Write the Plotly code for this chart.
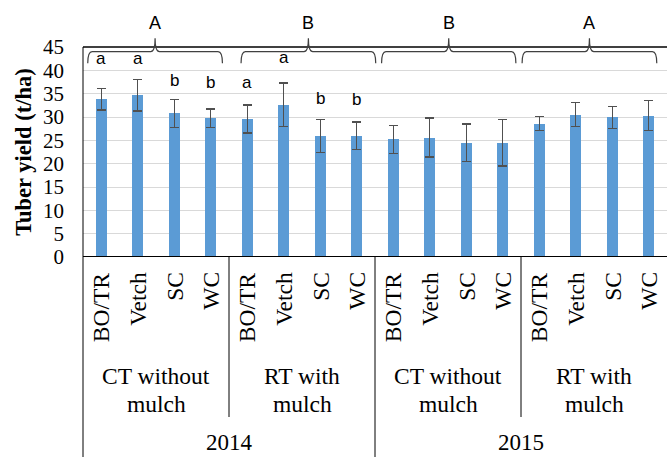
import plotly.graph_objects as go

# ---- data ----
years = ["2014", "2015"]
systems = [["CT without", "mulch"], ["RT with", "mulch"]]
crops = ["BO/TR", "Vetch", "SC", "WC"]
yield_mean = [33.8, 34.7, 30.8, 29.7, 29.6, 32.6, 25.9, 26.0,
              25.2, 25.6, 24.5, 24.5, 28.6, 30.5, 29.9, 30.3]
yield_err = [2.3, 3.4, 3.0, 2.0, 3.0, 4.7, 3.5, 2.9,
             3.0, 4.2, 4.0, 5.0, 1.5, 2.6, 2.3, 3.2]
crop_letters = ["a", "a", "b", "b", "a", "a", "b", "b"]
group_letters = ["A", "B", "B", "A"]

# ---- layout helpers (placement only) ----
letter_y = [42.6, 42.6, 37.9, 37.3, 37.5, 42.8, 34.0, 33.8]
brace_x0 = [-0.37, 3.83, 7.68, 11.53]
brace_x1 = [3.32, 7.52, 11.36, 15.22]

n = len(yield_mean)
xs = list(range(n))
H_PLOT = 210.0  # px height of plot area
def py(p):  # pixel (from top of figure) -> paper y
    return (257.0 - p) / H_PLOT

serif = "Liberation Serif"
sans = "Liberation Sans"

fig = go.Figure()
fig.add_trace(go.Bar(
    x=xs, y=yield_mean, width=0.31,
    marker=dict(color="#5b9bd5", line=dict(width=0)),
    error_y=dict(type="data", array=yield_err, visible=True,
                 color="#505050", thickness=1.3, width=4.5),
    hoverinfo="y",
))

shapes = []
annotations = []
line_col = "#404040"

# top border
shapes.append(dict(type="line", xref="paper", yref="paper", x0=0, x1=1, y0=1, y1=1,
                   line=dict(color=line_col, width=2)))
# bottom axis line
shapes.append(dict(type="line", xref="paper", yref="y", x0=0, x1=1, y0=0, y1=0,
                   line=dict(color="black", width=2)))
# left line (down through label area)
shapes.append(dict(type="line", xref="paper", yref="paper", x0=0, x1=0, y0=py(460), y1=1,
                   line=dict(color="black", width=1)))
# group separators
for g in range(1, 4):
    xb = 4 * g - 0.5
    bottom = py(460) if g == 2 else py(417)
    shapes.append(dict(type="line", xref="x", yref="paper", x0=xb, x1=xb, y0=0, y1=bottom,
                       line=dict(color="black", width=1)))

# braces
yh, yc, yt = py(51.7), py(63.3), py(38.3)
for g in range(4):
    x0, x1 = brace_x0[g], brace_x1[g]
    xm = (x0 + x1) / 2
    d = 0.12
    path = (f"M {x0},{yc} Q {x0},{yh} {x0+d},{yh} L {xm-d},{yh} "
            f"Q {xm},{yh} {xm},{yt} Q {xm},{yh} {xm+d},{yh} L {x1-d},{yh} "
            f"Q {x1},{yh} {x1},{yc}")
    shapes.append(dict(type="path", xref="x", yref="paper", path=path,
                       line=dict(color="#404040", width=1.2)))
    annotations.append(dict(x=xm, y=py(23.3), xref="x", yref="paper", text=group_letters[g],
                            showarrow=False, font=dict(family=sans, size=18, color="black"),
                            xanchor="center", yanchor="middle"))

# significance letters
for i, t in enumerate(crop_letters):
    annotations.append(dict(x=i, y=letter_y[i], xref="x", yref="y", text=t, showarrow=False,
                            font=dict(family=sans, size=17, color="black"),
                            xanchor="center", yanchor="middle"))

# crop labels (rotated)
for i in xs:
    annotations.append(dict(x=i, y=py(270.0), xref="x", yref="paper", text=crops[i % 4],
                            textangle=-90, showarrow=False,
                            font=dict(family=serif, size=23.5, color="black"),
                            xanchor="center", yanchor="top"))
# system labels (two lines each)
for g in range(4):
    for k, line in enumerate(systems[g % 2]):
        annotations.append(dict(x=4 * g + 1.5, y=py(376 + 27.5 * k), xref="x", yref="paper",
                                text=line, showarrow=False,
                                font=dict(family=serif, size=23.5, color="black"),
                                xanchor="center", yanchor="middle"))
# year labels
for k, yr in enumerate(years):
    annotations.append(dict(x=8 * k + 3.5, y=py(442), xref="x", yref="paper", text=yr,
                            showarrow=False, font=dict(family=serif, size=23, color="black"),
                            xanchor="center", yanchor="middle"))
# y title
annotations.append(dict(x=-0.103, y=0.5, xref="paper", yref="paper",
                        text="<b>Tuber yield (t/ha)</b>", textangle=-90, showarrow=False,
                        font=dict(family=serif, size=22.5, color="black"),
                        xanchor="center", yanchor="middle"))

fig.update_layout(
    width=667, height=457,
    margin=dict(l=83, r=0, t=47, b=200),
    paper_bgcolor="white", plot_bgcolor="white",
    showlegend=False,
    bargap=0,
    shapes=shapes, annotations=annotations,
    xaxis=dict(range=[-0.5, n - 0.5], showticklabels=False, showgrid=False,
               zeroline=False, showline=False, fixedrange=True),
    yaxis=dict(range=[0, 45], tickvals=list(range(0, 46, 5)), showgrid=True,
               gridcolor="#d9d9d9", gridwidth=1, zeroline=False, showline=False,
               ticks="", ticklabelstandoff=18,
               tickfont=dict(family=serif, size=21, color="black"), fixedrange=True),
)

fig.write_html("out.html", config={"displayModeBar": False},
               post_script="document.body.style.margin='0';document.body.style.overflow='hidden';")
